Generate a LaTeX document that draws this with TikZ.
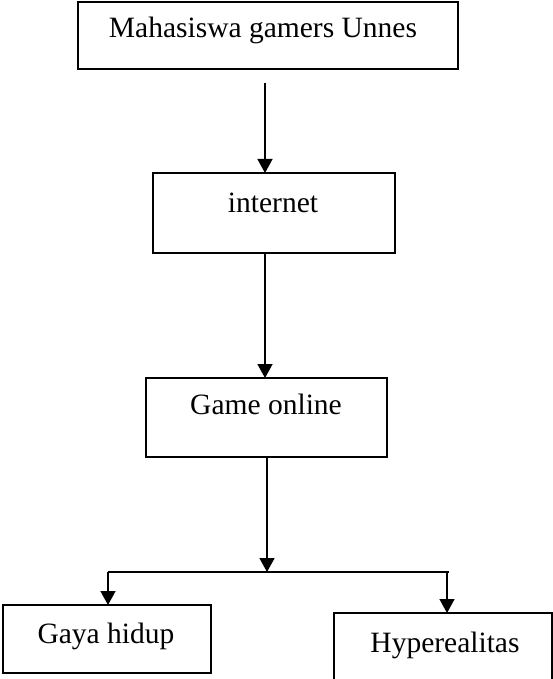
\documentclass[tikz,border=0pt]{standalone}
\usepackage{fontspec}
\setmainfont{Liberation Serif}
\usetikzlibrary{arrows.meta}
\begin{document}
\begin{tikzpicture}[x=1pt,y=-1pt,
  box/.style={draw,line width=1.6pt,inner sep=0pt,outer sep=0pt},
  lbl/.style={anchor=base,inner sep=0pt,font=\fontsize{29.5}{35}\selectfont},
  arr/.style={line width=1.6pt,-{Triangle[length=14pt,width=15pt]}},
  ln/.style={line width=1.6pt}]
\clip (0,0) rectangle (553,679);
\fill[white] (0,0) rectangle (553,679);
% boxes
\node[box,minimum width=380pt,minimum height=67pt] (top) at (268,35.5) {};
\node[box,minimum width=242pt,minimum height=80pt] (inet) at (274,213) {};
\node[box,minimum width=241pt,minimum height=79pt] (game) at (266.5,417.5) {};
\node[box,minimum width=208pt,minimum height=68pt] (gaya) at (107,639) {};
\node[box,minimum width=218pt,minimum height=90pt] (hyp) at (443,658) {};
% texts
\node[lbl] (ttop) at (263,38) {Mahasiswa gamers Unnes};
\node[lbl] (tinet) at (273,212) {internet};
\node[lbl] (tgame) at (266,414) {Game online};
\node[lbl] (tgaya) at (106,643) {Gaya hidup};
\node[lbl] (thyp) at (445,652) {Hyperealitas};
% connectors
\coordinate (a1) at (265,83);
\coordinate (a2) at (265,253);
\coordinate (a3) at (267,456);
\coordinate (j) at (267,572);
\coordinate (jl) at (108,572);
\coordinate (jr) at (449,572);
\coordinate (jr2) at (447,572);
\draw[arr] (a1) -- (a1 |- inet.north);
\draw[arr] (a2) -- (a2 |- game.north);
\draw[arr] (a3) -- (j);
\draw[ln] (jl) -- (jr);
\draw[arr] (jl) -- (jl |- gaya.north);
\draw[arr] (jr2) -- (jr2 |- hyp.north);
\end{tikzpicture}
\end{document}
